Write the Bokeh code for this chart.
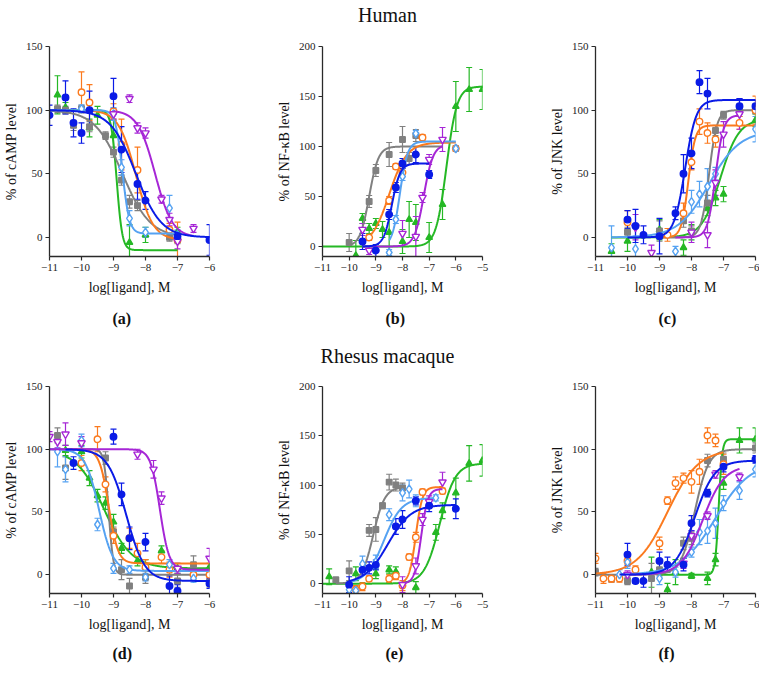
import numpy as np
from bokeh.plotting import figure
from bokeh.models import Range1d, FixedTicker, Whisker, TeeHead, ColumnDataSource, Title, Div
from bokeh.layouts import row, column
from bokeh.embed import file_html
from bokeh.resources import INLINE

FONT = "'Liberation Serif', serif"

# ---------------- data ----------------
# fit parameters: [bottom, top, logEC50, hill, curve_xmin, curve_xmax]
# ---- (a) Human cAMP
a_gray_x = [-10.75, -10.5, -10.25, -10, -9.75, -9.25, -9, -8.75, -8.5, -8.25, -7.25, -7]
a_gray_y = [101, 100, 88, 101, 87, 80, 67, 45, 28, 25, 0, -2]
a_gray_e = [3, 3, 4, 3, 4, 3, 4, 4, 5, 4, 3, 3]
a_gray_fit = [0, 100, -8.72, -1.0, -11, -7]
a_orange_x = [-10, -9.75, -9, -8.75, -8.25, -7.25, -7]
a_orange_y = [114, 106, 99, 73, 53, 6, -2]
a_orange_e = [16, 14, 6, 20, 18, 5, 14]
a_orange_fit = [-2, 100, -8.3, -1.6, -10, -7]
a_blue_x = [-11, -10.5, -10.25, -10, -9.75, -9, -8.75, -8.25, -8, -7, -6]
a_blue_y = [96, 110, 90, 82, 100, 111, 69, 42, 29, 1, -2]
a_blue_e = [8, 13, 11, 8, 15, 14, 18, 12, 7, 4, 12]
a_blue_fit = [0, 100, -8.3, -1.1, -11, -6]
a_lblue_x = [-10, -9, -8.75, -8.5, -8, -7.25, -7]
a_lblue_y = [101, 97, 55, 15, 4, 23, 2]
a_lblue_e = [3, 5, 6, 6, 4, 10, 4]
a_lblue_fit = [3, 100, -8.72, -4, -11, -7]
a_green_x = [-10.75, -10.5, -9.75, -9.5, -9, -8.5, -8, -7]
a_green_y = [112, 102, 86, 96, 80, -4, 2, 4]
a_green_e = [15, 4, 7, 7, 12, 14, 6, 4]
a_green_fit = [-10, 100, -8.9, -5, -11, -7]
a_purple_x = [-9, -8.5, -8.25, -8, -7.5, -7.25, -7, -6.5]
a_purple_y = [97, 109, 86, 82, 30, 14, -3, 7]
a_purple_e = [4, 3, 4, 4, 3, 5, 6, 3]
a_purple_fit = [0, 100, -7.7, -1.6, -9, -6.5]

# ---- (b) Human NF-kB
b_gray_x = [-10, -9.25, -9, -8.5, -8, -7.75, -7.5]
b_gray_y = [4, 45, 76, 92, 107, 88, 111]
b_gray_e = [9, 6, 6, 12, 13, 6, 6]
b_gray_fit = [0, 100, -9.25, 2.5, -10, -6.5]
b_orange_x = [-9.25, -8.5, -8.25, -8, -7.25, -6]
b_orange_y = [9, 46, 80, 74, 109, 98]
b_orange_e = [3, 4, 3, 4, 3, 3]
b_orange_fit = [0, 104, -8.5, 1.3, -9.25, -6]
b_blue_x = [-9.5, -9, -8.5, -8.25, -8, -7.5, -7]
b_blue_y = [5, -4, 32, 59, 83, 92, 72]
b_blue_e = [8, 6, 5, 5, 5, 8, 4]
b_blue_fit = [0, 83, -8.4, 2.8, -9.5, -7]
b_lblue_x = [-8.5, -8.25, -8, -7.5, -6]
b_lblue_y = [-6, 27, 70, 113, 98]
b_lblue_e = [3, 4, 4, 3, 3]
b_lblue_fit = [0, 105, -8.1, 3, -8.5, -6]
b_green_x = [-9.75, -9.5, -9.25, -9, -8.75, -8.5, -8, -7.75, -7.5, -7, -6.5, -6, -5.5, -5]
b_green_y = [-9, 28, 18, 23, 17, 14, 5, 27, 24, 9, 42, 140, 157, 157]
b_green_e = [15, 5, 5, 5, 8, 20, 12, 18, 18, 15, 15, 25, 22, 20]
b_green_fit = [0, 160, -6.35, 2.2, -11, -5]
b_purple_x = [-9.5, -9.25, -8, -7.5, -7.25, -7, -6.5]
b_purple_y = [17, -4, 13, 10, 49, 87, 107]
b_purple_e = [6, 4, 13, 20, 5, 5, 12]
b_purple_fit = [0, 102, -7.2, 2.5, -9.5, -6.5]

# ---- (c) Human JNK
c_gray_x = [-10, -9, -8.25, -8, -7.5, -7.25, -7, -6.5, -6]
c_gray_y = [4, 5, 13, 5, 27, 84, 96, 100, 101]
c_gray_e = [4, 8, 5, 4, 6, 4, 3, 5, 4]
c_gray_fit = [0, 100, -7.45, 3.5, -9, -6]
c_orange_x = [-10, -8.75, -8.25, -8, -7.75, -7.5, -7.25, -6.5, -6]
c_orange_y = [12, 2, 19, 59, 91, 82, 77, 90, 100]
c_orange_e = [9, 5, 8, 6, 10, 8, 6, 5, 11]
c_orange_fit = [0, 88, -8.1, 4, -9, -6]
c_blue_x = [-10, -9.75, -9.5, -9, -8.5, -8.25, -8, -7.75, -7.5, -6.5, -6]
c_blue_y = [14, 9, 2, 1, 19, 50, 66, 122, 113, 103, 103]
c_blue_e = [7, 13, 7, 14, 5, 15, 12, 9, 12, 6, 5]
c_blue_fit = [0, 108, -8.2, 2.5, -10, -6]
c_lblue_x = [-10.5, -9.75, -8.5, -8, -7.75, -7.5, -7.25, -6]
c_lblue_y = [-8, -9, -11, 28, 34, 40, 50, 85]
c_lblue_e = [17, 10, 4, 9, 10, 14, 5, 10]
c_lblue_fit = [0, 84, -7.45, 0.9, -10.5, -6]
c_green_x = [-10.5, -10, -9, -8.25, -8, -7.5, -7.25, -7, -6]
c_green_y = [-11, -3, 6, -8, 4, 23, 31, 34, 92]
c_green_e = [6, 8, 8, 6, 6, 6, 6, 6, 5]
c_green_fit = [0, 93, -7.1, 1.5, -10.5, -6]
c_purple_x = [-9.75, -9.25, -8, -7.5, -7.25, -7, -6.5]
c_purple_y = [8, -12, 4, 2, 43, 81, 97]
c_purple_e = [10, 6, 8, 10, 10, 10, 12]
c_purple_fit = [0, 96, -7.25, 3.5, -8.5, -6.5]

# ---- (d) Rhesus cAMP
d_gray_x = [-10.75, -10.5, -9.25, -9, -8.75, -8.5, -8, -7, -6.5, -6]
d_gray_y = [111, 85, 93, 34, 4, -9, -2, -5, 8, -6]
d_gray_e = [6, 9, 5, 4, 8, 6, 5, 5, 7, 4]
d_gray_fit = [0, 100, -9.15, -6, -11, -6]
d_orange_x = [-10, -9.5, -9.25, -9, -8.5, -8.25, -8, -7.5, -7.25, -6.5, -6]
d_orange_y = [89, 108, 72, 31, 29, 17, 6, 14, 4, 0, 0]
d_orange_e = [6, 10, 6, 6, 8, 8, 6, 5, 6, 4, 4]
d_orange_fit = [9, 100, -9.15, -3, -10.5, -6]
d_blue_x = [-10.25, -9, -8.75, -8.5, -8, -7.25, -7, -6]
d_blue_y = [89, 110, 64, 29, 26, -9, -13, -7]
d_blue_e = [5, 6, 9, 9, 7, 8, 5, 4]
d_blue_fit = [-5, 100, -8.6, -1.5, -10.5, -6]
d_lblue_x = [-10.75, -10.5, -10, -9.5, -9, -8.5, -8, -7.25, -6.5]
d_lblue_y = [98, 84, 107, 40, 5, 4, -2, 8, -3]
d_lblue_e = [12, 10, 5, 5, 4, 3, 3, 4, 3]
d_lblue_fit = [3, 100, -9.45, -2, -11, -6]
d_green_x = [-10.5, -10, -9.75, -9.5, -9.25, -9, -8.75, -8.25, -8, -7.5, -7, -6]
d_green_y = [99, 98, 77, 63, 57, 42, 21, 11, 6, 19, 5, 6]
d_green_e = [4, 5, 6, 5, 5, 6, 4, 4, 6, 4, 4, 3]
d_green_fit = [5, 100, -9.3, -1.0, -10.5, -6]
d_purple_x = [-11, -10.75, -10.5, -10, -8.25, -7.75, -7.5, -7, -6]
d_purple_y = [110, 106, 112, 105, 96, 84, 61, 5, 13]
d_purple_e = [4, 5, 9, 5, 4, 7, 5, 4, 8]
d_purple_fit = [4, 100, -7.55, -3, -11, -6]

# ---- (e) Rhesus NF-kB
e_gray_x = [-10.5, -10, -9.25, -9, -8.75, -8.5, -8.25, -8]
e_gray_y = [4, 13, 54, 55, 79, 103, 100, 97]
e_gray_e = [2, 10, 6, 12, 3, 8, 6, 5]
e_gray_fit = [0, 98, -9.1, 2, -10.5, -8]
e_orange_x = [-9.75, -9.5, -9.25, -8.5, -8.25, -8, -7.75, -7.5, -7.25, -6.5]
e_orange_y = [-6, -3, 5, 5, 8, -2, 27, 47, 93, 94]
e_orange_e = [4, 4, 3, 4, 4, 5, 3, 5, 3, 3]
e_orange_fit = [0, 98, -7.5, 3.5, -8, -6.5]
e_blue_x = [-10, -9.5, -9.25, -9, -8.25, -8, -7.5, -7, -6]
e_blue_y = [-1, 14, 16, 19, 58, 65, 84, 79, 76]
e_blue_e = [8, 5, 6, 5, 8, 9, 4, 6, 10]
e_blue_fit = [0, 80, -8.55, 1.0, -10, -6]
e_lblue_x = [-10, -9.75, -9.5, -9, -8.5, -8, -7.75, -7.5, -6.75]
e_lblue_y = [-6, -7, 20, 22, 70, 92, 96, 84, 87]
e_lblue_e = [4, 3, 8, 7, 6, 8, 9, 6, 3]
e_lblue_fit = [0, 87, -8.7, 1.3, -10, -6.75]
e_green_x = [-10.75, -9.75, -9, -8.5, -8.25, -7.5, -6.75, -6.5, -6, -5.5, -5]
e_green_y = [7, 10, 10, 14, 12, -4, 52, 74, 92, 122, 125]
e_green_e = [8, 7, 5, 4, 5, 6, 8, 8, 15, 18, 16]
e_green_fit = [0, 122, -6.6, 1.5, -11, -5]
e_purple_x = [-8, -7.5, -7.25, -7, -6.5]
e_purple_y = [-1, 18, 65, 83, 103]
e_purple_e = [8, 8, 6, 6, 10]
e_purple_fit = [0, 96, -7.3, 3.5, -8, -6.5]

# ---- (f) Rhesus JNK
f_gray_x = [-11, -10.5, -10, -9.25, -9, -8.25, -8, -7.5, -7, -6]
f_gray_y = [2, -3, -5, -3, 4, 25, 29, 91, 92, 101]
f_gray_e = [3, 3, 3, 12, 5, 5, 5, 5, 5, 4]
f_gray_fit = [0, 100, -7.9, 2.0, -11, -6]
f_orange_x = [-11, -10.75, -10.5, -10.25, -10, -9.75, -9, -8.75, -8.5, -8.25, -8, -7.75, -7.5, -7.25, -7]
f_orange_y = [13, -3, -3, -3, 11, 4, 25, 59, 73, 77, 74, 82, 111, 107, 88]
f_orange_e = [4, 4, 3, 3, 3, 3, 5, 3, 5, 4, 9, 10, 6, 5, 8]
f_orange_fit = [0, 100, -8.75, 0.9, -11, -7]
f_blue_x = [-10, -9.75, -9.5, -9, -8.75, -8.25, -8, -7.5, -7, -6]
f_blue_y = [16, -5, -5, 11, 8, 8, 41, 65, 86, 92]
f_blue_e = [9, 2, 5, 7, 6, 5, 6, 3, 4, 3]
f_blue_fit = [0, 91, -7.9, 1.4, -10.25, -6]
f_lblue_x = [-10.25, -10, -9, -8.5, -8, -7.75, -7.5, -7.25, -7, -6.5, -6]
f_lblue_y = [0, 10, -3, 2, 18, 34, 35, 41, 57, 67, 84]
f_lblue_e = [4, 5, 5, 4, 4, 10, 10, 12, 6, 7, 6]
f_lblue_fit = [0, 90, -7.25, 0.8, -10.25, -6]
f_green_x = [-9.25, -8.75, -8.5, -8, -7.5, -7.25, -7, -6.5, -6]
f_green_y = [2, -12, 2, -1, -3, 12, 73, 107, 108]
f_green_e = [12, 5, 10, 2, 5, 5, 5, 10, 9]
f_green_fit = [0, 108, -7.15, 8, -9, -6]
f_purple_x = [-10, -8.25, -8, -7.5, -7.25, -6.5]
f_purple_y = [0, 9, 31, 47, 80, 78]
f_purple_e = [3, 4, 4, 3, 3, 3]
f_purple_fit = [0, 87, -7.65, 1.3, -10, -6.5]

# ---------------- styling ----------------
COLORS = {"gray": "#808080", "orange": "#fb7a1e", "blue": "#0a1be6",
          "lblue": "#55a2f2", "green": "#25b825", "purple": "#a626d6"}
MARKERS = {"gray": ("square", True, 5.5), "orange": ("circle", False, 6.5),
           "blue": ("circle", True, 6.5), "lblue": ("diamond", False, 8.5),
           "green": ("triangle", True, 6.5), "purple": ("inverted_triangle", False, 7.5)}
ORDER = ["green", "gray", "orange", "lblue", "purple", "blue"]

G = globals()


def hill(x, fit):
    bottom, top, ec50, h = fit[:4]
    return bottom + (top - bottom) / (1.0 + 10.0 ** ((ec50 - x) * h))


def make_panel(key, ylabel, yrange, yticks, xmax, width, height, bl, br, bt, bb, tag, tag_standoff):
    p = figure(width=width, height=height, x_range=Range1d(-11, xmax),
               y_range=Range1d(*yrange), output_backend="svg", toolbar_location=None,
               min_border_left=bl, min_border_right=br, min_border_top=bt,
               min_border_bottom=bb)
    p.outline_line_color = None
    p.grid.visible = False
    p.background_fill_color = "white"
    for ax in (p.xaxis[0], p.yaxis[0]):
        ax.axis_line_color = "#2a2a2a"
        ax.axis_line_width = 1.3
        ax.major_tick_line_color = "#2a2a2a"
        ax.major_tick_line_width = 1.2
        ax.major_tick_out = 4
        ax.major_tick_in = 0
        ax.minor_tick_line_color = None
        ax.major_label_text_font = FONT
        ax.major_label_text_font_size = "11px"
        ax.major_label_text_color = "#222222"
        ax.axis_label_text_font = FONT
        ax.axis_label_text_font_size = "14px"
        ax.axis_label_text_font_style = "normal"
        ax.axis_label_text_color = "#111111"
    p.xaxis.ticker = FixedTicker(ticks=list(range(-11, xmax + 1)))
    p.yaxis.ticker = FixedTicker(ticks=yticks)
    p.xaxis.major_label_standoff = 3
    p.yaxis.major_label_standoff = 3
    p.xaxis.axis_label = "log[ligand], M"
    p.yaxis.axis_label = ylabel
    p.xaxis.axis_label_standoff = 6
    p.yaxis.axis_label_standoff = 4

    for s in ORDER:
        c = COLORS[s]
        xs = G[f"{key}_{s}_x"]
        ys = G[f"{key}_{s}_y"]
        es = G[f"{key}_{s}_e"]
        fit = G[f"{key}_{s}_fit"]
        cx = np.linspace(fit[4], fit[5], 300)
        p.line(cx, hill(cx, fit), line_color=c, line_width=2)
        src = ColumnDataSource(dict(x=xs, y=ys,
                                    lo=[y - e for y, e in zip(ys, es)],
                                    hi=[y + e for y, e in zip(ys, es)]))
        w = Whisker(source=src, base="x", upper="hi", lower="lo", line_color=c,
                    line_width=1.2,
                    upper_head=TeeHead(size=6, line_color=c, line_width=1.2),
                    lower_head=TeeHead(size=6, line_color=c, line_width=1.2))
        p.add_layout(w)
        mk, filled, size = MARKERS[s]
        p.scatter("x", "y", source=src, marker=mk, size=size, line_color=c,
                  line_width=1.4, fill_color=c if filled else "white")

    p.add_layout(Title(text=tag, align="left", offset=63, text_font=FONT,
                       text_font_size="16px", text_font_style="bold",
                       text_color="#111111", standoff=tag_standoff), "below")
    return p


TOP_H, BOT_H = 310, 300
pa = make_panel("a", "% of cAMP level", (-15, 150), [0, 50, 100, 150], -6, 273, TOP_H, 41, 64, 16, 84, "(a)", 21)
pb = make_panel("b", "% of NF-κB level", (-10, 200), [0, 50, 100, 150, 200], -5, 273, TOP_H, 41, 64, 16, 84, "(b)", 21)
pc = make_panel("c", "% of JNK level", (-15, 150), [0, 50, 100, 150], -6, 213, TOP_H, 41, 4, 16, 84, "(c)", 21)
pd = make_panel("d", "% of cAMP level", (-15, 150), [0, 50, 100, 150], -6, 273, BOT_H, 41, 64, 16, 74, "(d)", 17)
pe = make_panel("e", "% of NF-κB level", (-10, 200), [0, 50, 100, 150, 200], -5, 273, BOT_H, 41, 64, 16, 74, "(e)", 17)
pf = make_panel("f", "% of JNK level", (-15, 150), [0, 50, 100, 150], -6, 213, BOT_H, 41, 4, 16, 74, "(f)", 17)

head_style = {"text-align": "center", "font-family": "'Liberation Serif', serif",
              "font-size": "20px", "line-height": "22px", "color": "#111111",
              "padding-left": "16px"}
h1 = Div(text="Human", width=759, height=30, margin=(0, 0, 0, 0),
         styles=dict(head_style, **{"padding-top": "4px"}))
h2 = Div(text="Rhesus macaque", width=759, height=30, margin=(0, 0, 0, 0),
         styles=dict(head_style, **{"padding-top": "5px"}))

layout = column(h1, row(pa, pb, pc), h2, row(pd, pe, pf))
open("out.html", "w").write(file_html(layout, INLINE))
